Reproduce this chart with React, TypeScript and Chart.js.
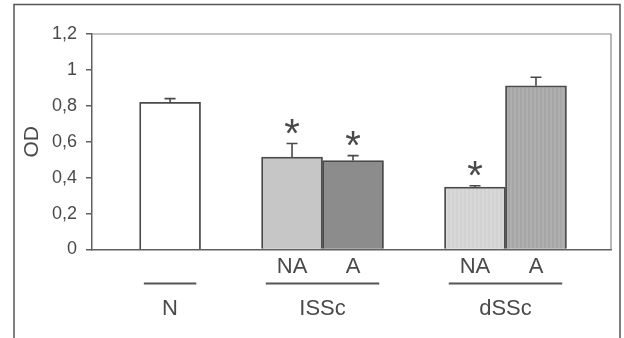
import React, { useEffect, useRef } from "react";
import { Chart, registerables } from "chart.js";

Chart.register(...registerables);

// ---- data ----
const categories = ["N", "ISSc", "dSSc"];
const barGroup = [0, 1, 1, 2, 2];
const barLabels = ["", "NA", "A", "NA", "A"];
const barSlots = [0, 2, 3, 5, 6];
const values = [0.82, 0.515, 0.495, 0.348, 0.912];
const errors = [0.02, 0.075, 0.028, 0.007, 0.047];
const significant = [false, true, true, true, false];
const yTicks = [0, 0.2, 0.4, 0.6, 0.8, 1, 1.2];

const FONT = "'Liberation Sans', Arial, sans-serif";
const TEXT = "#4a4a4a";
const AXIS = "#606060";

function stripes(c1: string, c2: string) {
  const cv = document.createElement("canvas");
  cv.width = 4;
  cv.height = 1;
  const c = cv.getContext("2d")!;
  c.fillStyle = c1;
  c.fillRect(0, 0, 4, 1);
  c.fillStyle = c2;
  c.fillRect(2, 0, 2, 1);
  return c.createPattern(cv, "repeat")!;
}

const extras = {
  id: "extras",
  beforeDraw(chart: any) {
    const ctx = chart.ctx;
    ctx.save();
    ctx.fillStyle = "#ffffff";
    ctx.fillRect(0, 0, chart.width, chart.height);
    ctx.strokeStyle = "#555555";
    ctx.lineWidth = 1.5;
    ctx.strokeRect(14, 4.5, 606, 360);
    ctx.restore();
  },
  afterDraw(chart: any) {
    const ctx = chart.ctx;
    const xs = chart.scales.x;
    const ys = chart.scales.y;
    const a = chart.chartArea;
    ctx.save();
    // plot box top & right
    ctx.strokeStyle = "#8a8a8a";
    ctx.lineWidth = 1.2;
    ctx.beginPath();
    ctx.moveTo(a.left, a.top);
    ctx.lineTo(a.right, a.top);
    ctx.lineTo(a.right, a.bottom);
    ctx.stroke();

    // error bars
    ctx.strokeStyle = "#4a4a4a";
    ctx.lineWidth = 1.6;
    values.forEach((v, i) => {
      const px = xs.getPixelForValue(barSlots[i]);
      const top = ys.getPixelForValue(v);
      const et = ys.getPixelForValue(v + errors[i]);
      ctx.beginPath();
      ctx.moveTo(px, top);
      ctx.lineTo(px, et);
      ctx.moveTo(px - 5.5, et);
      ctx.lineTo(px + 5.5, et);
      ctx.stroke();
    });

    // asterisks
    ctx.fillStyle = TEXT;
    ctx.font = `40px ${FONT}`;
    ctx.textAlign = "center";
    ctx.textBaseline = "alphabetic";
    values.forEach((v, i) => {
      if (!significant[i]) return;
      const px = xs.getPixelForValue(barSlots[i]);
      const et = ys.getPixelForValue(v + errors[i]);
      const m = ctx.measureText("*");
      const cy = et - 17;
      const base = cy + (m.actualBoundingBoxAscent - m.actualBoundingBoxDescent) / 2;
      ctx.fillText("*", px, base);
    });

    // group lines + labels
    ctx.font = `22px ${FONT}`;
    ctx.textBaseline = "middle";
    categories.forEach((name, g) => {
      const idx = barGroup.map((gg, i) => (gg === g ? i : -1)).filter((i) => i >= 0);
      const first = barSlots[idx[0]];
      const last = barSlots[idx[idx.length - 1]];
      const x1 = xs.getPixelForValue(first - 0.43);
      const x2 = xs.getPixelForValue(last + 0.43);
      const ly = a.bottom + 34;
      ctx.beginPath();
      ctx.lineWidth = 2;
      ctx.strokeStyle = "#555555";
      ctx.moveTo(x1, ly);
      ctx.lineTo(x2, ly);
      ctx.stroke();
      const cx = (xs.getPixelForValue(first) + xs.getPixelForValue(last)) / 2;
      ctx.fillText(name, cx, a.bottom + 59);
    });
    ctx.restore();
  },
};

export default function App() {
  const ref = useRef<HTMLCanvasElement>(null);
  useEffect(() => {
    if (!ref.current) return;
    const fills = [
      "#ffffff",
      "#c6c6c6",
      "#8c8c8c",
      stripes("#d2d2d2", "#d8d8d8"),
      stripes("#a6a6a6", "#afafaf"),
    ];
    const chart = new Chart(ref.current, {
      type: "bar",
      data: {
        datasets: [
          {
            data: barSlots.map((x, i) => ({ x, y: values[i] })),
            backgroundColor: fills as any,
            borderColor: "#4a4a4a",
            borderWidth: 1.8,
            barPercentage: 1,
            categoryPercentage: 1,
          },
        ],
      },
      options: {
        animation: false,
        responsive: false,
        devicePixelRatio: 1,
        layout: { padding: { left: 0, right: 13, top: 34, bottom: 0 } },
        plugins: { legend: { display: false }, tooltip: { enabled: false } },
        scales: {
          x: {
            type: "linear",
            min: -1.28,
            max: 7.23,
            offset: false,
            afterBuildTicks: (s: any) => {
              s.ticks = barSlots.map((v) => ({ value: v }));
            },
            afterFit: (s: any) => {
              s.height = 88.5;
            },
            ticks: {
              autoSkip: false,
              maxRotation: 0,
              padding: 4,
              color: TEXT,
              font: { family: FONT, size: 22 },
              callback: (_v: any, i: number) => barLabels[i],
            },
            grid: { display: false, drawTicks: false },
            border: { display: true, color: AXIS, width: 1.5 },
          },
          y: {
            min: 0,
            max: 1.2,
            afterBuildTicks: (s: any) => {
              s.ticks = yTicks.map((v) => ({ value: v }));
            },
            afterFit: (s: any) => {
              s.width = 92;
            },
            ticks: {
              padding: 9,
              color: TEXT,
              font: { family: FONT, size: 18 },
              callback: (v: any) => String(Math.round(Number(v) * 10) / 10).replace(".", ","),
            },
            grid: {
              display: true,
              drawOnChartArea: false,
              drawTicks: true,
              tickLength: 6,
              color: AXIS,
              lineWidth: 1.5,
            },
            border: { display: true, color: AXIS, width: 1.5 },
            title: {
              display: true,
              text: "OD",
              color: TEXT,
              font: { family: FONT, size: 21 },
              padding: { top: 20, bottom: 0 },
            },
          },
        },
      },
      plugins: [extras],
    });
    return () => chart.destroy();
  }, []);
  return (
    <div style={{ position: "fixed", left: 0, top: 0, width: 624, height: 338 }}>
      <canvas ref={ref} width={624} height={338} style={{ display: "block" }} />
    </div>
  );
}
